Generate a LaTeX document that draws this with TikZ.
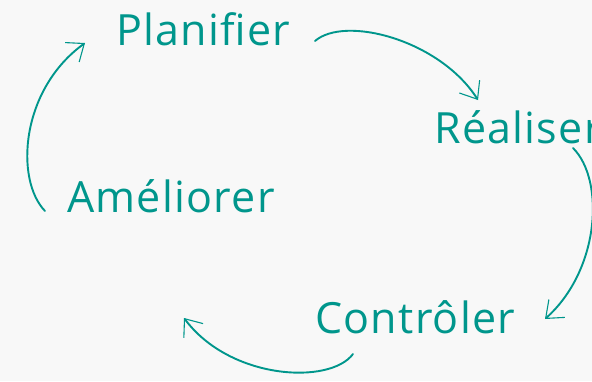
\documentclass[tikz,border=0pt]{standalone}
\usepackage{fontspec}
\setmainfont{Open Sans}[LetterSpace=3]
\usetikzlibrary{arrows.meta}
\definecolor{bgc}{HTML}{F8F8F8}
\definecolor{teal1}{HTML}{00968C}
\tikzset{
  lbl/.style={anchor=base west, inner sep=0pt, text=teal1, font=\fontsize{43}{47}\selectfont},
  cyc/.style={draw=teal1, line width=1.9pt, line cap=round,
    -{Straight Barb[length=15pt,width=24pt,line width=1.1pt]}}
}
\begin{document}
\begin{tikzpicture}[x=1pt,y=-1pt]
\fill[bgc] (0,0) rectangle (592,381);
\useasboundingbox (0,0) rectangle (592,381);
\node[lbl] (plan) at (116,45) {Planifier};
\node[lbl] (real) at (434,143) {Réaliser};
\node[lbl] (ctrl) at (315,333) {Contrôler};
\node[lbl] (amel) at (67,212) {Améliorer};
\coordinate (s1) at (315,41);  \coordinate (e1) at (478,100);
\coordinate (s2) at (573,148); \coordinate (e2) at (545,319);
\coordinate (s3) at (353,354); \coordinate (e3) at (184,318);
\coordinate (s4) at (45,211);  \coordinate (e4) at (85,43);
\draw[cyc] (s1) .. controls (345,15) and (440,40) .. (e1);
\draw[cyc] (s2) .. controls (605,180) and (600,270) .. (e2);
\draw[cyc] (s3) .. controls (330,385) and (230,380) .. (e3);
\draw[cyc] (s4) .. controls (15,180) and (20,90) .. (e4);
\end{tikzpicture}
\end{document}
